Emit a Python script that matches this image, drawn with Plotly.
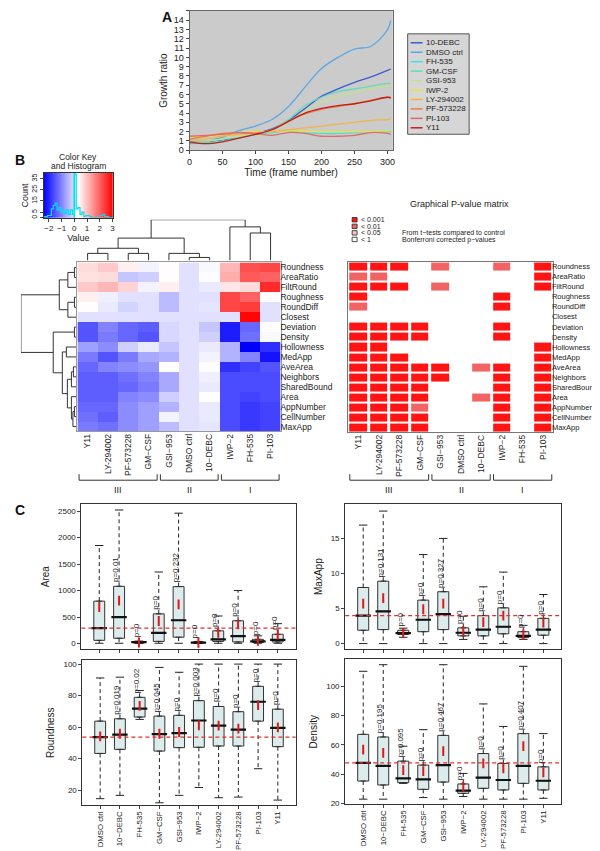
import numpy as np
import plotly.graph_objects as go

W, H = 600, 851
FONT = "Liberation Sans, Arial, Helvetica, sans-serif"

# ---------------- Panel A : growth curves ----------------
frames = [0, 25, 50, 75, 100, 125, 150, 175, 200, 225, 250, 275, 300, 305]
growth_names = ["10-DEBC", "DMSO ctrl", "FH-535", "GM-CSF", "GSI-953", "IWP-2",
                "LY-294002", "PF-573228", "PI-103", "Y11"]
growth_colors = ["#3a5bd0", "#5aa8e6", "#3fe0e0", "#66dcb4", "#c6df8c", "#f0e23c",
                 "#f2b446", "#f07a44", "#e06a6a", "#c01e1e"]
g_10debc = [1.0, 0.9, 1.1, 1.4, 1.8, 2.3, 3.2, 4.5, 5.8, 6.6, 7.3, 7.9, 8.6, 8.75]
g_dmso = [0.7, 0.9, 1.4, 2.1, 2.6, 3.3, 4.7, 6.8, 8.8, 10.0, 10.9, 11.2, 13.0, 14.0]
g_fh535 = [1.1, 1.0, 1.2, 1.4, 1.7, 1.9, 2.1, 1.9, 1.8, 1.8, 1.9, 2.0, 2.0, 2.0]
g_gmcsf = [0.9, 0.8, 1.0, 1.3, 1.7, 2.2, 3.3, 4.8, 5.7, 6.3, 6.6, 6.9, 7.2, 7.2]
g_gsi953 = [1.0, 1.0, 1.2, 1.5, 1.8, 2.2, 3.0, 4.2, 5.2, 5.8, 6.2, 6.6, 6.9, 7.0]
g_iwp2 = [1.3, 1.5, 1.7, 1.9, 2.0, 2.0, 2.1, 2.0, 2.0, 2.0, 2.0, 2.0, 2.1, 2.1]
g_ly = [1.0, 1.2, 1.5, 1.7, 1.9, 2.0, 2.2, 2.4, 2.6, 2.8, 3.0, 3.2, 3.3, 3.35]
g_pf = [1.2, 1.5, 1.8, 1.9, 1.8, 2.2, 3.1, 3.9, 4.4, 4.7, 5.0, 5.4, 5.7, 5.7]
g_pi103 = [1.5, 1.6, 1.7, 1.9, 1.8, 1.6, 1.9, 1.8, 1.5, 1.5, 1.6, 1.9, 1.8, 1.7]
g_y11 = [0.9, 0.7, 0.9, 1.3, 1.7, 2.2, 3.1, 4.0, 4.5, 4.8, 5.0, 5.3, 5.7, 5.6]
growth_series = [g_10debc, g_dmso, g_fh535, g_gmcsf, g_gsi953, g_iwp2, g_ly, g_pf, g_pi103, g_y11]

# ---------------- Panel B : heatmap ----------------
heat_rows = ["Roundness", "AreaRatio", "FiltRound", "Roughness", "RoundDiff", "Closest",
             "Deviation", "Density", "Hollowness", "MedApp", "AveArea", "Neighbors",
             "SharedBound", "Area", "AppNumber", "CellNumber", "MaxApp"]
heat_cols = ["Y11", "LY-294002", "PF-573228", "GM\u2212CSF", "GSI\u2212953", "DMSO ctrl",
             "10\u2212DEBC", "IWP\u22122", "FH-535", "PI-103"]
heat_values = [
    [0.7, 0.9, 0.5, 0.2, 0.35, 0.0, 0.25, 1.1, 2.2, 2.3],
    [0.65, 0.7, -0.3, -0.2, 0.35, 0.0, 0.3, 1.2, 2.1, 2.0],
    [0.9, 1.1, 0.8, 0.2, 0.5, 0.0, 0.1, 0.6, 0.7, 2.6],
    [0.5, 0.15, 0.0, 0.0, -0.4, 0.0, 0.0, 2.3, 2.0, 0.35],
    [0.35, 0.1, -0.15, 0.0, -0.4, 0.0, 0.05, 2.3, 2.4, 0.0],
    [0.0, 0.0, 0.0, 0.0, 0.0, 0.0, 0.0, 0.0, 3.0, 0.0],
    [-1.5, -1.0, -1.3, -1.4, -0.1, 0.0, -0.3, -2.1, -1.3, 0.35],
    [-1.5, -1.1, -1.3, -1.5, -0.1, 0.0, -0.2, -2.1, -1.2, 0.25],
    [-0.7, -0.9, -0.2, 0.1, -0.3, 0.0, 0.1, -0.5, -2.4, -1.9],
    [-1.1, -1.5, -1.1, -0.6, -0.5, 0.0, 0.2, -0.5, -1.0, -2.2],
    [-1.3, -1.0, -0.9, -0.8, 0.35, 0.0, 0.3, -1.9, -1.7, -1.5],
    [-1.4, -1.4, -1.2, -1.0, -0.6, 0.0, 0.15, -1.6, -1.6, -1.6],
    [-1.4, -1.4, -1.3, -1.1, -0.6, 0.0, 0.1, -1.6, -1.6, -1.6],
    [-1.4, -1.4, -1.0, -0.9, -0.2, 0.0, 0.35, -1.6, -1.7, -1.6],
    [-1.3, -1.3, -0.9, -0.7, -0.5, 0.0, 0.1, -1.6, -1.8, -1.7],
    [-1.2, -1.4, -0.9, -0.7, 0.2, 0.0, 0.1, -1.6, -1.8, -1.7],
    [-1.1, -1.2, -0.9, -0.7, -0.4, 0.0, 0.05, -1.6, -1.8, -1.7],
]
# dendrograms: leaf = index, node = [left, right, height]
col_tree = [[[[0, 1, 0.7], [2, 3, 0.7], 1.2], [4, [5, 6, 0.3], 0.7], 2.2],
            [7, [8, 9, 2.7], 3.3], 4.0]
row_tree = [[[[0, 1, 0.2], 2, 0.85], [[3, 4, 0.2], 5, 0.85], 1.7],
            [[6, 7, 0.2],
             [[8, 9, 1.0],
              [[[10, 11, 0.3], 12, 0.5], [13, [[14, 15, 0.2], 16, 0.35], 0.5], 0.9], 1.4],
             2.3],
            5.5]
groups = ["III", "II", "I"]
group_first = [0, 4, 7]
group_last = [3, 6, 9]

# p-value levels: 3 = <0.001, 2 = <0.01, 1 = <0.05, 0 = <1
p_levels = [
    [3, 3, 3, 0, 2, 0, 0, 2, 0, 3],
    [2, 2, 0, 0, 0, 0, 0, 0, 0, 3],
    [3, 3, 3, 0, 2, 0, 0, 0, 0, 3],
    [3, 0, 0, 0, 0, 0, 0, 3, 0, 0],
    [2, 0, 0, 0, 0, 0, 0, 3, 0, 0],
    [0, 0, 0, 0, 0, 0, 0, 0, 0, 0],
    [3, 3, 3, 3, 0, 0, 0, 3, 0, 0],
    [3, 3, 3, 3, 0, 0, 0, 3, 0, 0],
    [3, 3, 0, 0, 0, 0, 0, 0, 0, 3],
    [3, 3, 3, 0, 0, 0, 0, 0, 0, 3],
    [3, 3, 3, 3, 3, 0, 2, 3, 0, 3],
    [3, 3, 3, 3, 3, 0, 0, 3, 0, 3],
    [3, 3, 3, 3, 0, 0, 0, 3, 0, 3],
    [3, 3, 3, 3, 0, 0, 2, 3, 0, 3],
    [3, 3, 3, 2, 0, 0, 0, 3, 0, 3],
    [3, 3, 3, 3, 0, 0, 0, 3, 0, 3],
    [3, 3, 3, 3, 0, 0, 0, 3, 0, 3],
]
p_legend = ["< 0.001", "< 0.01", "< 0.05", "< 1"]
p_colors = ["#ff1414", "#f26464", "#f0c8c8", "#ffffff"]

# ---------------- Panel C : box plots ----------------
box_cats = ["DMSO ctrl", "10\u2212DEBC", "FH-535", "GM\u2212CSF", "GSI\u2212953", "IWP\u22122",
            "LY-294002", "PF-573228", "PI-103", "Y11"]

area_lo = [5, 5, 5, 5, 5, 5, 5, 5, 5, 5]
area_q1 = [60, 100, 10, 40, 120, 8, 40, 30, 20, 30]
area_med = [290, 500, 25, 200, 440, 18, 80, 140, 40, 70]
area_q3 = [800, 1080, 40, 560, 1075, 30, 240, 430, 80, 175]
area_hi = [1850, 2520, 45, 1350, 2460, 40, 520, 1000, 145, 375]
area_mean = [690, 810, 20, 425, 740, 15, 200, 360, 50, 170]
area_p = ["", "p=0.01", "p=0", "p=0", "p=0.232", "p=0", "p=0", "p=0", "p=0", "p=0"]

max_lo = [0, 0, 0.9, 0, 0, 0.6, 0, 0, 0.6, 0]
max_q1 = [1.9, 2.0, 1.3, 1.7, 2.0, 1.1, 1.1, 1.4, 0.85, 1.2]
max_med = [4.0, 4.6, 1.5, 3.4, 4.2, 1.55, 2.0, 2.4, 1.1, 2.0]
max_q3 = [8.0, 8.9, 1.9, 6.2, 7.4, 2.25, 4.0, 5.1, 1.7, 3.6]
max_hi = [16.9, 18.9, 2.2, 12.7, 15.0, 3.9, 8.1, 10.2, 2.6, 7.0]
max_mean = [5.7, 6.5, 1.5, 4.9, 5.7, 1.8, 3.05, 4.0, 1.3, 3.0]
max_p = ["", "p=0.131", "p=0", "p=0", "p=0.327", "p=0", "p=0", "p=0", "p=0", "p=0"]

rnd_lo = [14.6, 16.7, 64.9, 12.0, 16.7, 21.7, 15.2, 15.6, 33.6, 13.7]
rnd_q1 = [43.3, 45.9, 66.4, 44.8, 47.0, 47.2, 48.0, 48.0, 63.8, 47.6]
rnd_med = [53.7, 55.2, 71.8, 55.6, 56.2, 64.2, 61.0, 58.4, 76.1, 59.5]
rnd_q3 = [63.8, 65.3, 78.9, 67.0, 67.5, 76.8, 73.1, 69.8, 85.9, 71.4]
rnd_hi = [91.2, 91.7, 83.2, 97.9, 94.8, 100, 100, 100, 100, 100]
rnd_mean = [54.1, 55.8, 73.5, 55.8, 56.9, 61.2, 61.0, 59.0, 74.0, 59.9]
rnd_p = ["", "p=0.019", "p=0.02", "p=0.045", "p=0", "p=0.003", "p=0", "p=0", "p=0", "p=0"]

den_lo = [22.8, 22.8, 33.6, 23.9, 22.8, 24.6, 22.8, 22.8, 22.8, 23.4]
den_q1 = [35.2, 32.5, 34.1, 29.5, 34.5, 26.8, 30.2, 29.1, 33.6, 29.1]
den_med = [47.6, 45.6, 37.0, 36.3, 46.1, 28.6, 37.5, 35.9, 45.6, 35.4]
den_q3 = [67.1, 65.3, 48.8, 46.1, 66.4, 33.2, 54.0, 47.2, 67.6, 44.9]
den_hi = [110.2, 114.7, 59.0, 70.3, 114.7, 40.4, 87.9, 72.5, 113.6, 67.6]
den_mean = [56.7, 54.4, 42.7, 42.0, 55.6, 31.4, 47.2, 43.8, 59.0, 41.1]
den_p = ["", "p=0.195", "p=0.095", "p=0", "p=0.467", "p=0", "p=0", "p=0", "p=0.407", "p=0"]


# ---------------- helpers ----------------
def dx(a, b):
    return [a / W, b / W]


def dy(a, b):
    return [1 - b / H, 1 - a / H]


def px_y(p):
    return 1 - p / H


def sfx(n):
    return "" if n == 1 else str(n)


def dendro_lines(tree):
    pos, hgt = [], []

    def walk(node):
        if isinstance(node, int):
            return float(node), 0.0
        left, right, h = node
        pl, hl = walk(left)
        pr, hr = walk(right)
        pos.extend([pl, pl, pr, pr, None])
        hgt.extend([hl, h, h, hr, None])
        return (pl + pr) / 2.0, h

    walk(tree)
    return pos, hgt


fig = go.Figure()
layout = {}
shapes = []
annots = []

HID = dict(visible=False, showgrid=False, zeroline=False)

# ---------- Panel A ----------
for name, col, ser in zip(growth_names, growth_colors, growth_series):
    fig.add_trace(go.Scatter(x=frames, y=ser, mode="lines", name=name,
                             line=dict(color=col, width=1.3, shape="spline", smoothing=1.0),
                             xaxis="x", yaxis="y", showlegend=False))
layout["xaxis"] = dict(domain=dx(180, 385), anchor="y", range=[0, 308],
                       tickvals=list(range(0, 301, 50)), ticks="outside", ticklen=3,
                       showgrid=False, zeroline=False, showline=True, mirror=True,
                       linecolor="#666", linewidth=1, tickfont=dict(size=9),
                       title=dict(text="Time (frame number)", font=dict(size=10), standoff=0))
layout["yaxis"] = dict(domain=dy(3, 143), anchor="x", range=[0, 15],
                       tickvals=list(range(0, 16)), ticks="outside", ticklen=3,
                       showgrid=False, zeroline=False, showline=True, mirror=True,
                       linecolor="#666", linewidth=1, tickfont=dict(size=9),
                       title=dict(text="Growth ratio", font=dict(size=10), standoff=4))
shapes.append(dict(type="rect", xref="x domain", yref="y domain", x0=0, x1=1, y0=0, y1=1,
                   fillcolor="#cbcbcb", line=dict(width=0), layer="below"))
# manual legend
shapes.append(dict(type="rect", xref="paper", yref="paper", x0=400 / W, x1=462 / W,
                   y0=px_y(127), y1=px_y(26), fillcolor="#d6d6d6",
                   line=dict(color="#555", width=1)))
for i, (name, col) in enumerate(zip(growth_names, growth_colors)):
    yy = px_y(35 + i * 9.5)
    shapes.append(dict(type="line", xref="paper", yref="paper", x0=403 / W, x1=415 / W,
                       y0=yy, y1=yy, line=dict(color=col, width=1.5)))
    annots.append(dict(text=name, xref="paper", yref="paper", x=416.5 / W, y=yy,
                       xanchor="left", yanchor="middle", showarrow=False,
                       font=dict(size=8, color="#222")))

# ---------- Colour key ----------
ZMIN, ZMAX = -2.4, 3.05
HM_SCALE = [[0, "#0000ff"], [0.5, "#ffffff"], [1, "#ff0000"]]
key_edges = np.linspace(ZMIN, ZMAX, 201)
key_z = [((key_edges[:-1] + key_edges[1:]) / 2).tolist()]
fig.add_trace(go.Heatmap(x=key_edges, y=[0, 40], z=key_z, colorscale=HM_SCALE,
                         zmin=ZMIN, zmax=ZMAX, showscale=False, xaxis="x2", yaxis="y2",
                         hoverinfo="skip"))
all_vals = np.array(heat_values).ravel()
cnt, edg = np.histogram(all_vals, bins=np.arange(ZMIN, ZMAX + 0.01, 0.15))
fig.add_trace(go.Scatter(x=edg.tolist(), y=cnt.tolist() + [cnt[-1]], mode="lines",
                         line=dict(color="#00e0f0", width=1.2, shape="hv"),
                         xaxis="x2", yaxis="y2", showlegend=False))
shapes.append(dict(type="line", xref="x2", yref="y2 domain", x0=0, x1=0, y0=0, y1=1,
                   line=dict(color="#00e0f0", width=1.5)))
layout["xaxis2"] = dict(domain=dx(33, 103), anchor="y2", range=[ZMIN, ZMAX],
                        tickvals=[-2, -1, 0, 1, 2, 3], ticks="outside", ticklen=3,
                        showgrid=False, zeroline=False, showline=True, mirror=True,
                        linecolor="#333", tickfont=dict(size=8),
                        title=dict(text="Value", font=dict(size=9), standoff=0))
layout["yaxis2"] = dict(domain=dy(166, 211), anchor="x2", range=[0, 40],
                        tickvals=[0, 5, 15, 25, 35], ticks="outside", ticklen=3,
                        tickangle=-90, showgrid=False, zeroline=False, showline=True,
                        mirror=True, linecolor="#333", tickfont=dict(size=7),
                        title=dict(text="Count", font=dict(size=9), standoff=0))
annots.append(dict(text="Color Key", xref="paper", yref="paper",
                   x=68 / W, y=px_y(150), xanchor="center", yanchor="middle",
                   showarrow=False, font=dict(size=8.5, color="#222")))
annots.append(dict(text="and Histogram", xref="paper", yref="paper",
                   x=68 / W, y=px_y(159), xanchor="center", yanchor="middle",
                   showarrow=False, font=dict(size=8.5, color="#222")))

# ---------- Dendrograms ----------
cpos, chgt = dendro_lines(col_tree)
fig.add_trace(go.Scatter(x=cpos, y=chgt, mode="lines", line=dict(color="#333", width=1),
                         xaxis="x3", yaxis="y3", showlegend=False, hoverinfo="skip"))
layout["xaxis3"] = dict(domain=dx(67, 272), anchor="y3", range=[-0.5, 9.5], **HID)
layout["yaxis3"] = dict(domain=dy(213, 254), anchor="x3", range=[0, 4.0], **HID)

rpos, rhgt = dendro_lines(row_tree)
fig.add_trace(go.Scatter(x=rhgt, y=rpos, mode="lines", line=dict(color="#333", width=1),
                         xaxis="x4", yaxis="y4", showlegend=False, hoverinfo="skip"))
layout["xaxis4"] = dict(domain=dx(10, 66), anchor="y4", range=[5.5, 0], **HID)
layout["yaxis4"] = dict(domain=dy(256, 426), anchor="x4", range=[16.5, -0.5], **HID)

# ---------- Heatmap ----------
ncol, nrow = len(heat_cols), len(heat_rows)
fig.add_trace(go.Heatmap(z=heat_values, x=list(range(ncol)), y=list(range(nrow)),
                         colorscale=HM_SCALE, zmin=ZMIN, zmax=ZMAX, showscale=False,
                         xaxis="x5", yaxis="y5"))
layout["xaxis5"] = dict(domain=dx(67, 272), anchor="y5", range=[-0.5, ncol - 0.5],
                        tickvals=list(range(ncol)), ticktext=heat_cols, tickangle=-90,
                        ticklabelstandoff=-2,
                        showgrid=False, zeroline=False, showline=True, mirror=True,
                        linecolor="#999", tickfont=dict(size=8.5))
layout["yaxis5"] = dict(domain=dy(256, 426), anchor="x5", range=[nrow - 0.5, -0.5],
                        tickvals=list(range(nrow)), ticktext=heat_rows, side="right",
                        ticklabelstandoff=-3,
                        showgrid=False, zeroline=False, showline=True, mirror=True,
                        linecolor="#999", tickfont=dict(size=8.5))

# ---------- P-value matrix ----------
P_SCALE = [[0, p_colors[3]], [0.25, p_colors[3]], [0.25, p_colors[2]], [0.5, p_colors[2]],
           [0.5, p_colors[1]], [0.75, p_colors[1]], [0.75, p_colors[0]], [1, p_colors[0]]]
fig.add_trace(go.Heatmap(z=p_levels, x=list(range(ncol)), y=list(range(nrow)),
                         colorscale=P_SCALE, zmin=-0.5, zmax=3.5, showscale=False,
                         xgap=3, ygap=2, xaxis="x6", yaxis="y6"))
layout["xaxis6"] = dict(domain=dx(340, 547), anchor="y6", range=[-0.5, ncol - 0.5],
                        tickvals=list(range(ncol)), ticktext=heat_cols, tickangle=-90,
                        ticklabelstandoff=-2,
                        showgrid=False, zeroline=False, showline=True, mirror=True,
                        linecolor="#777", tickfont=dict(size=8.5))
layout["yaxis6"] = dict(domain=dy(255, 427), anchor="x6", range=[nrow - 0.5, -0.5],
                        tickvals=list(range(nrow)), ticktext=heat_rows, side="right",
                        ticklabelstandoff=-4,
                        showgrid=False, zeroline=False, showline=True, mirror=True,
                        linecolor="#777", tickfont=dict(size=7.5))
annots.append(dict(text="Graphical P-value matrix", xref="paper", yref="paper",
                   x=452 / W, y=px_y(197), xanchor="center", yanchor="middle",
                   showarrow=False, font=dict(size=9, color="#222")))
for i, (lab, col) in enumerate(zip(p_legend, p_colors)):
    yc = 213 + i * 6.6
    shapes.append(dict(type="rect", xref="paper", yref="paper", x0=344 / W, x1=349 / W,
                       y0=px_y(yc + 2.2), y1=px_y(yc - 2.2), fillcolor=col,
                       line=dict(color="#222", width=0.8)))
    annots.append(dict(text=lab, xref="paper", yref="paper", x=351 / W, y=px_y(yc),
                       xanchor="left", yanchor="middle", showarrow=False,
                       font=dict(size=7, color="#222")))
annots.append(dict(text="From t\u2212tests compared to control", xref="paper", yref="paper",
                   x=392 / W, y=px_y(226), xanchor="left", yanchor="middle",
                   showarrow=False, font=dict(size=7, color="#222")))
annots.append(dict(text="Bonferroni corrected p\u2212values", xref="paper", yref="paper",
                   x=392 / W, y=px_y(233.5), xanchor="left", yanchor="middle",
                   showarrow=False, font=dict(size=7, color="#222")))

# brackets for both heat maps
for xr in ["x5", "x6"]:
    yb, yt = px_y(475), px_y(469)
    for g, a, b in zip(groups, group_first, group_last):
        x0, x1 = a - 0.42, b + 0.42
        shapes.append(dict(type="path", xref=xr, yref="paper",
                           path=f"M {x0},{yt} L {x0},{yb} L {x1},{yb} L {x1},{yt}",
                           line=dict(color="#333", width=1)))
        annots.append(dict(text=g, xref=xr, yref="paper", x=(a + b) / 2, y=px_y(485),
                           xanchor="center", yanchor="middle", showarrow=False,
                           font=dict(size=9, color="#222")))


# ---------- Box plot panels ----------
def add_box_panel(n, q1, med, q3, lo, hi, mean, plabs, ytitle, yrange, ytick,
                  xdom, ydom, show_labels):
    xa, ya = "x" + sfx(n), "y" + sfx(n)
    xs = list(range(len(q1)))
    fig.add_trace(go.Box(x=xs, q1=q1, median=med, q3=q3, lowerfence=q1, upperfence=q3,
                         width=0.55, fillcolor="#dcecec", line=dict(color="#333", width=1),
                         xaxis=xa, yaxis=ya, showlegend=False, hoverinfo="skip"))
    wx, wy = [], []
    for i in xs:
        wx += [i, i, None, i, i, None]
        wy += [q3[i], hi[i], None, q1[i], lo[i], None]
    fig.add_trace(go.Scatter(x=wx, y=wy, mode="lines",
                             line=dict(color="#222", width=1, dash="4px,3px"),
                             xaxis=xa, yaxis=ya, showlegend=False, hoverinfo="skip"))
    fig.add_trace(go.Scatter(x=xs + xs, y=list(hi) + list(lo), mode="markers",
                             marker=dict(symbol="line-ew", size=6,
                                         line=dict(color="#222", width=1)),
                             xaxis=xa, yaxis=ya, showlegend=False, hoverinfo="skip"))
    fig.add_trace(go.Scatter(x=xs, y=med, mode="markers",
                             marker=dict(symbol="line-ew", size=11,
                                         line=dict(color="#111", width=2.2)),
                             xaxis=xa, yaxis=ya, showlegend=False, hoverinfo="skip"))
    fig.add_trace(go.Scatter(x=xs, y=mean, mode="markers",
                             marker=dict(symbol="line-ns", size=7,
                                         line=dict(color="#e01818", width=2)),
                             xaxis=xa, yaxis=ya, showlegend=False, hoverinfo="skip"))
    shapes.append(dict(type="line", xref=xa + " domain", yref=ya, x0=0, x1=1,
                       y0=med[0], y1=med[0], line=dict(color="#e03030", width=1.2, dash="4px,3px")))
    for i, t in enumerate(plabs):
        if t:
            annots.append(dict(text=t, xref=xa, yref=ya, x=i, y=q3[i], textangle=-90,
                               xanchor="center", yanchor="bottom", yshift=2, xshift=-3,
                               showarrow=False, font=dict(size=8, color="#222")))
    layout["xaxis" + sfx(n)] = dict(domain=xdom, anchor=ya, range=[-0.9, 9.9],
                                    tickvals=xs, ticktext=box_cats, tickangle=-90,
                                    showticklabels=show_labels, ticks="outside", ticklen=3,
                                    ticklabelstandoff=-1,
                                    showgrid=False, zeroline=False, showline=True,
                                    mirror=True, linecolor="#333", tickfont=dict(size=7.8))
    layout["yaxis" + sfx(n)] = dict(domain=ydom, anchor=xa, range=yrange, tickvals=ytick,
                                    ticks="outside", ticklen=3, showgrid=False,
                                    zeroline=False, showline=True, mirror=True,
                                    linecolor="#333", tickfont=dict(size=8),
                                    title=dict(text=ytitle, font=dict(size=10), standoff=6))


add_box_panel(7, area_q1, area_med, area_q3, area_lo, area_hi, area_mean, area_p, "Area",
              [-107, 2632], [0, 500, 1000, 1500, 2000, 2500], dx(71, 287), dy(499, 645), False)
add_box_panel(8, max_q1, max_med, max_q3, max_lo, max_hi, max_mean, max_p, "MaxApp",
              [-0.8, 19.9], [0, 5, 10, 15], dx(337, 555), dy(499, 645), False)
add_box_panel(9, rnd_q1, rnd_med, rnd_q3, rnd_lo, rnd_hi, rnd_mean, rnd_p, "Roundness",
              [10.4, 102.5], [20, 40, 60, 80, 100], dx(72, 287), dy(656, 802), True)
add_box_panel(10, den_q1, den_med, den_q3, den_lo, den_hi, den_mean, den_p, "Density",
              [19.3, 118.5], [20, 40, 60, 80, 100], dx(337, 555), dy(655, 801), True)

# panel letters
for letter, (lx, ly) in zip(["A", "B", "C"], [(157, 9), (9, 153), (9, 505)]):
    annots.append(dict(text=f"<b>{letter}</b>", xref="paper", yref="paper", x=lx / W,
                       y=px_y(ly), xanchor="center", yanchor="middle", showarrow=False,
                       font=dict(size=14, color="#111")))

fig.update_layout(width=W, height=H, margin=dict(l=0, r=0, t=0, b=0),
                  paper_bgcolor="white", plot_bgcolor="white", showlegend=False,
                  font=dict(family=FONT, size=9, color="#222"),
                  shapes=shapes, annotations=annots, **layout)
fig.write_html("out.html")
